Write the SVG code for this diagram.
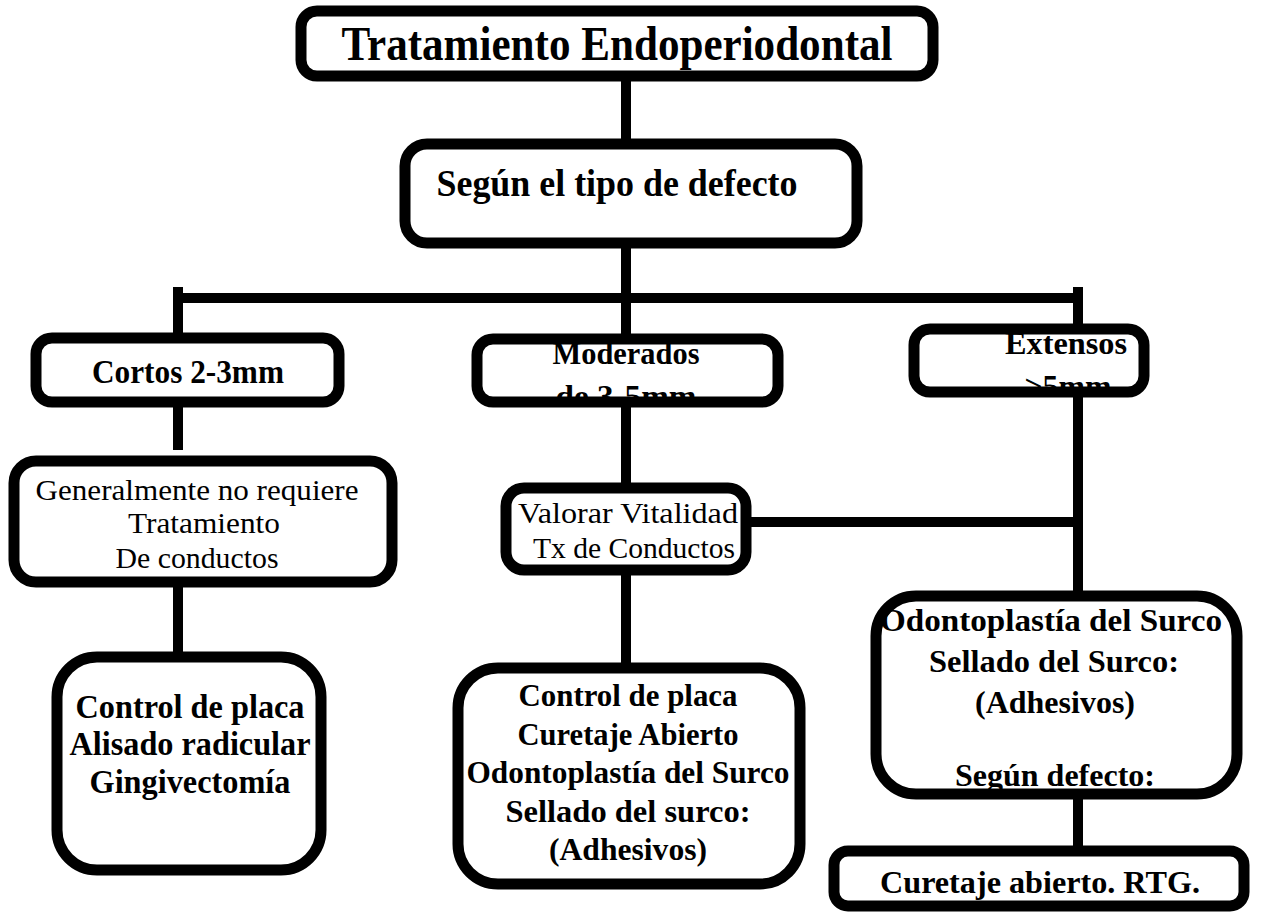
<svg xmlns="http://www.w3.org/2000/svg" width="1263" height="917" viewBox="0 0 1263 917">
<style>
.bg{fill:#fff;stroke:none}
.bd{fill:none;stroke:#000;stroke-width:11}
.ln{stroke:#000;stroke-width:10;fill:none;stroke-linecap:butt}
text{font-family:"Liberation Serif","Times New Roman",serif;fill:#000;text-anchor:middle}
.b{font-weight:bold}
</style>
<rect width="1263" height="917" fill="#fff"/>
<g id="connectors">
<path class="ln" d="M626 76V144 M626 243V339 M626 402V488 M626 570V668 M173 298H1083 M178 287V338 M1078 287V329 M178 402V450 M178 582V655 M1078 392V596 M746 522H1078 M1078 794V851"/>
</g>
<g id="n-title">
<rect class="bg" x="301" y="11" width="632" height="65" rx="16"/>
<text class="b" x="617" y="60" font-size="48" textLength="551" lengthAdjust="spacingAndGlyphs">Tratamiento Endoperiodontal</text>
<rect class="bd" x="301" y="11" width="632" height="65" rx="16"/>
</g>
<g id="n-segun">
<rect class="bg" x="405" y="144" width="452" height="99" rx="22"/>
<text class="b" x="617" y="196" font-size="37" textLength="361" lengthAdjust="spacingAndGlyphs">Según el tipo de defecto</text>
<rect class="bd" x="405" y="144" width="452" height="99" rx="22"/>
</g>
<g id="n-cortos">
<rect class="bg" x="36" y="338" width="303" height="64" rx="16"/>
<text class="b" x="188" y="383" font-size="34" textLength="192" lengthAdjust="spacingAndGlyphs">Cortos 2-3mm</text>
<rect class="bd" x="36" y="338" width="303" height="64" rx="16"/>
</g>
<g id="n-moderados">
<rect class="bg" x="477" y="339" width="301" height="63" rx="16"/>
<text class="b" x="626" y="364" font-size="32" textLength="147" lengthAdjust="spacingAndGlyphs">Moderados</text>
<text class="b" x="626" y="407" font-size="32" textLength="141" lengthAdjust="spacingAndGlyphs">de 3-5mm</text>
<rect class="bd" x="477" y="339" width="301" height="63" rx="16"/>
</g>
<g id="n-extensos">
<rect class="bg" x="914" y="329" width="230" height="63" rx="16"/>
<text class="b" x="1066" y="354" font-size="32" textLength="122" lengthAdjust="spacingAndGlyphs">Extensos</text>
<text class="b" x="1068" y="397" font-size="32" textLength="87" lengthAdjust="spacingAndGlyphs">&gt;5mm</text>
<rect class="bd" x="914" y="329" width="230" height="63" rx="16"/>
</g>
<g id="n-generalmente">
<rect class="bg" x="14" y="461" width="378" height="121" rx="22"/>
<text x="197" y="500" font-size="29" textLength="323" lengthAdjust="spacingAndGlyphs">Generalmente no requiere</text>
<text x="204" y="533" font-size="29" textLength="152" lengthAdjust="spacingAndGlyphs">Tratamiento</text>
<text x="197" y="568" font-size="29" textLength="163" lengthAdjust="spacingAndGlyphs">De conductos</text>
<rect class="bd" x="14" y="461" width="378" height="121" rx="22"/>
</g>
<g id="n-valorar">
<rect class="bg" x="506" y="488" width="240" height="82" rx="18"/>
<text x="628" y="523" font-size="29" textLength="220" lengthAdjust="spacingAndGlyphs">Valorar Vitalidad</text>
<text x="634" y="558" font-size="29" textLength="202" lengthAdjust="spacingAndGlyphs">Tx de Conductos</text>
<rect class="bd" x="506" y="488" width="240" height="82" rx="18"/>
</g>
<g id="n-control-left">
<rect class="bg" x="57" y="657" width="264" height="213" rx="40"/>
<text class="b" x="190" y="718" font-size="34" textLength="229" lengthAdjust="spacingAndGlyphs">Control de placa</text>
<text class="b" x="190" y="755" font-size="34" textLength="241" lengthAdjust="spacingAndGlyphs">Alisado radicular</text>
<text class="b" x="190" y="793" font-size="34" textLength="201" lengthAdjust="spacingAndGlyphs">Gingivectomía</text>
<rect class="bd" x="57" y="657" width="264" height="213" rx="40"/>
</g>
<g id="n-control-mid">
<rect class="bg" x="458" y="668" width="342" height="216" rx="40"/>
<text class="b" x="628" y="706" font-size="32" textLength="219" lengthAdjust="spacingAndGlyphs">Control de placa</text>
<text class="b" x="628" y="745" font-size="32" textLength="221" lengthAdjust="spacingAndGlyphs">Curetaje Abierto</text>
<text class="b" x="628" y="783" font-size="32" textLength="323" lengthAdjust="spacingAndGlyphs">Odontoplastía del Surco</text>
<text class="b" x="628" y="822" font-size="32" textLength="245" lengthAdjust="spacingAndGlyphs">Sellado del surco:</text>
<text class="b" x="628" y="860" font-size="32" textLength="158" lengthAdjust="spacingAndGlyphs">(Adhesivos)</text>
<rect class="bd" x="458" y="668" width="342" height="216" rx="40"/>
</g>
<g id="n-odonto-right">
<rect class="bg" x="876" y="596" width="361" height="198" rx="40"/>
<text class="b" x="1051" y="631" font-size="32" textLength="342" lengthAdjust="spacingAndGlyphs">Odontoplastía del Surco</text>
<text class="b" x="1054" y="672" font-size="32" textLength="250" lengthAdjust="spacingAndGlyphs">Sellado del Surco:</text>
<text class="b" x="1055" y="713" font-size="32" textLength="160" lengthAdjust="spacingAndGlyphs">(Adhesivos)</text>
<text class="b" x="1055" y="786" font-size="32" textLength="200" lengthAdjust="spacingAndGlyphs">Según defecto:</text>
<rect class="bd" x="876" y="596" width="361" height="198" rx="40"/>
</g>
<g id="n-curetaje">
<rect class="bg" x="834" y="851" width="410" height="55" rx="14"/>
<text class="b" x="1040" y="893" font-size="32" textLength="320" lengthAdjust="spacingAndGlyphs">Curetaje abierto. RTG.</text>
<rect class="bd" x="834" y="851" width="410" height="55" rx="14"/>
</g>
</svg>
